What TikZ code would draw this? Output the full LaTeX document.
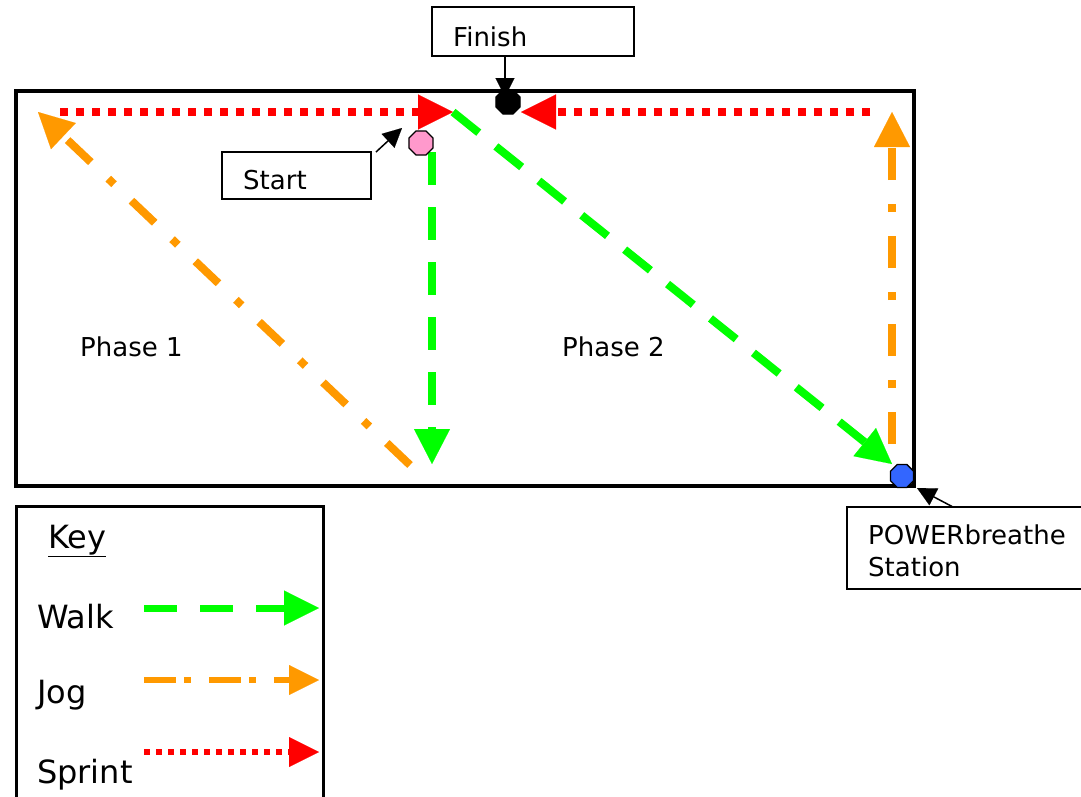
\documentclass[tikz,border=0pt]{standalone}
\usepackage{fontspec}
\setmainfont{DejaVu Sans}
\usetikzlibrary{arrows.meta,shapes.geometric}
\definecolor{walkgreen}{HTML}{00FF00}
\definecolor{jogorange}{HTML}{FF9900}
\definecolor{sprintred}{HTML}{FF0000}
\definecolor{dotpink}{HTML}{FF99CC}
\definecolor{dotblue}{HTML}{3366FF}
\tikzset{
  lbl/.style={inner sep=0pt, font=\fontsize{26}{31}\selectfont},
  keylbl/.style={inner sep=0pt, font=\fontsize{32}{38}\selectfont},
  callout/.style={draw=black, line width=1.3pt, inner sep=0pt},
  pointer/.style={draw=black, line width=1.5pt, -{Triangle[length=19pt,width=19pt,line width=0.1pt]}},
  octdot/.style={regular polygon, regular polygon sides=8, minimum size=26pt, inner sep=0pt, draw=black, line width=1.3pt},
  walkline/.style={draw=walkgreen, line width=8pt, dash pattern=on 33pt off 22pt, -{Triangle[length=35pt,width=36pt,line width=0.1pt]}},
  jogline/.style={draw=jogorange, line width=8pt, dash pattern=on 32pt off 24pt on 8pt off 24pt, -{Triangle[length=35pt,width=36pt,line width=0.1pt]}},
  sprintline/.style={draw=sprintred, line width=8pt, dash pattern=on 8pt off 8pt, -{Triangle[length=35pt,width=35pt,line width=0.1pt]}},
}
\begin{document}
\begin{tikzpicture}[x=1pt,y=-1pt]
\useasboundingbox (0,0) rectangle (1081,796);
\fill[white] (0,0) rectangle (1081,796);

% field
\draw[line width=4pt] (16,91) rectangle (914,486);

% path coordinates
\coordinate (s1a) at (60,112);
\coordinate (s1b) at (453,112);
\coordinate (s2a) at (870,112);
\coordinate (s2b) at (521,112);
\coordinate (w1a) at (432,152);
\coordinate (w1b) at (432,464);
\coordinate (w2a) at (453,112);
\coordinate (w2b) at (892,464);
\coordinate (j1a) at (410,465);
\coordinate (j1b) at (38,112);
\coordinate (j2a) at (892,444);
\coordinate (j2b) at (892,112);

\draw[sprintline] (s1a) -- (s1b);
\draw[sprintline] (s2a) -- (s2b);
\draw[jogline] (j1a) -- (j1b);
\draw[jogline] (j2a) -- (j2b);
\draw[walkline] (w1a) -- (w1b);
\draw[walkline] (w2a) -- (w2b);

% phase labels
\node[lbl, anchor=base west] (phase1) at (80,356) {Phase 1};
\node[lbl, anchor=base west] (phase2) at (562,356) {Phase 2};

% Finish callout
\node[callout, minimum width=202pt, minimum height=49pt] (finishbox) at (533,31.5) {};
\node[lbl, anchor=base west] (finishtxt) at (453,46) {Finish};
\coordinate (finishtail) at (505,56);
\coordinate (finishtip) at (505,97);
\draw[pointer] (finishtail) -- (finishtip);

% Start callout
\node[callout, minimum width=149pt, minimum height=47pt] (startbox) at (296.5,175.5) {};
\node[lbl, anchor=base west] (starttxt) at (243,189) {Start};
\coordinate (starttail) at (376,152);
\coordinate (starttip) at (402,128);
\draw[pointer] (starttail) -- (starttip);

% POWERbreathe callout
\node[callout, minimum width=250pt, minimum height=82pt] (stationbox) at (972,548) {};
\node[lbl, anchor=base west] (stationtxt1) at (868,544) {POWERbreathe};
\node[lbl, anchor=base west] (stationtxt2) at (868,576) {Station};
\coordinate (stationtail) at (953,507);
\coordinate (stationtip) at (917,488);
\draw[pointer] (stationtail) -- (stationtip);

% dots
\node[octdot, fill=black] (finishdot) at (508,102) {};
\node[octdot, fill=dotpink] (startdot) at (421,143) {};
\node[octdot, fill=dotblue, minimum size=25pt] (stationdot) at (902,476) {};

% Key
\draw[line width=3pt] (16,810) -- (16,506) -- (323,506) -- (323,810);
\node[keylbl, anchor=base west] (keytitle) at (48,548) {\underline{Key}};
\node[keylbl, anchor=base west] (keywalk) at (37,628) {Walk};
\node[keylbl, anchor=base west] (keyjog) at (37,703) {Jog};
\node[keylbl, anchor=base west] (keysprint) at (37,783) {Sprint};
\coordinate (kwa) at (144,608);
\coordinate (kwb) at (319,608);
\coordinate (kja) at (144,680);
\coordinate (kjb) at (319,680);
\coordinate (ksa) at (144,752);
\coordinate (ksb) at (319,752);
\draw[draw=walkgreen, line width=7pt, dash pattern=on 33pt off 23pt, -{Triangle[length=35pt,width=35pt,line width=0.1pt]}] (kwa) -- (kwb);
\draw[draw=jogorange, line width=5.5pt, dash pattern=on 32pt off 8pt on 7pt off 18pt, -{Triangle[length=30pt,width=30pt,line width=0.1pt]}] (kja) -- (kjb);
\draw[draw=sprintred, line width=6pt, dash pattern=on 6pt off 6pt, -{Triangle[length=30pt,width=30pt,line width=0.1pt]}] (ksa) -- (ksb);
\end{tikzpicture}
\end{document}
